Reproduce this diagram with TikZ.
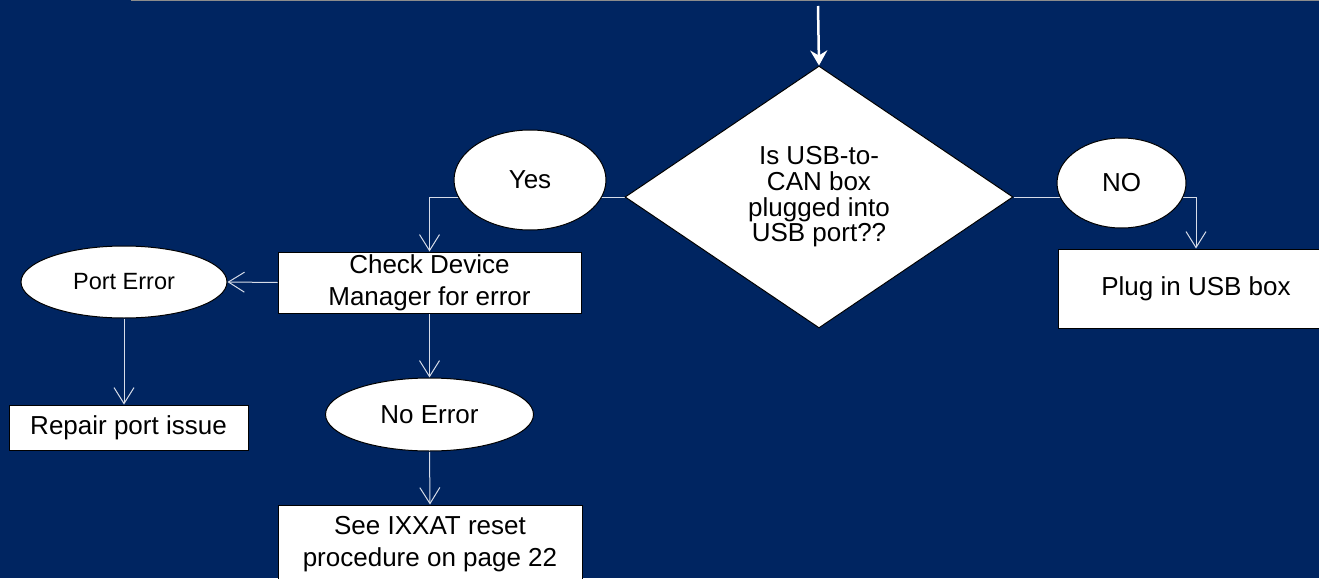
\documentclass[tikz,border=0pt]{standalone}
\usepackage{fontspec}
\setmainfont{Liberation Sans}
\usetikzlibrary{shapes.geometric,arrows.meta}
\definecolor{navy}{RGB}{0,37,97}
\definecolor{wire}{RGB}{214,220,232}
\definecolor{rulegray}{RGB}{140,140,140}
\pgfdeclarelayer{bg}
\pgfdeclarelayer{wires}
\pgfsetlayers{bg,wires,main}

\begin{document}
\begin{tikzpicture}[x=1pt,y=-1pt,
  shapebase/.style={fill=white,draw=black,line width=1pt,inner sep=0pt,
    text=black,font=\fontsize{26}{32}\selectfont,align=center},
  stepbox/.style={shapebase,rectangle},
  oval/.style={shapebase,ellipse},
  decision/.style={shapebase,diamond,font=\fontsize{26}{25.7}\selectfont},
  flow/.style={draw=wire,line width=1pt,-{Straight Barb[length=16pt,width=20pt]}},
  entry/.style={draw=white,line width=2.5pt,-{Stealth[length=15pt,width=17pt,inset=5pt]}}
]
\clip (0,0) rectangle (1319,578);
\begin{pgfonlayer}{bg}
  \fill[navy] (0,0) rectangle (1319,578);
  \draw[rulegray,line width=1.5pt] (131,0.5) -- (1319,0.5);
\end{pgfonlayer}

% decision
\coordinate (start) at (818,6);
\node[decision,minimum width=388pt,minimum height=262pt] (dia) at (819,197)
  {Is USB-to-\\CAN box\\plugged into\\USB port??};

% answers
\node[oval,minimum width=152pt,minimum height=100pt] (yes) at (530,180) {Yes};
\node[oval,minimum width=129pt,minimum height=90pt] (no) at (1121.5,183) {NO};

% left branch
\node[stepbox,minimum width=303pt,minimum height=61pt] (check) at (429.5,282.5)
  {Check Device\\Manager for error};
\node[oval,minimum width=206pt,minimum height=72pt,
  font=\fontsize{23.5}{28}\selectfont] (perr) at (124,282) {Port Error};
\node[stepbox,minimum width=239pt,minimum height=45pt] (repair) at (128.5,427.5)
  {Repair port issue};
\node[oval,minimum width=208pt,minimum height=73pt] (noerr) at (429.5,414.5) {No Error};
\node[stepbox,minimum width=304pt,minimum height=78pt] (reset) at (430,544)
  {See IXXAT reset\\procedure on page 22};

% right branch
\node[stepbox,minimum width=276pt,minimum height=79pt] (plug) at (1196,288.5)
  {Plug in USB box};

\begin{pgfonlayer}{wires}
  \draw[entry] (start) -- (dia.north);
  \draw[flow] (dia.west) -| (check.north);
  \draw[flow] (dia.east) -| (plug.north);
  \draw[flow] (check.west) -- (perr.east);
  \draw[flow] (perr.south) -- (perr.south |- repair.north);
  \draw[flow] (check.south) -- (noerr.north);
  \draw[flow] (noerr.south) -- (reset.north);
\end{pgfonlayer}
\end{tikzpicture}
\end{document}
